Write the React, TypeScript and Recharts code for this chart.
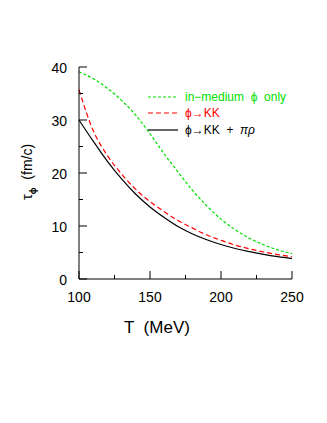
import React from "react";
import { LineChart, Line, XAxis, YAxis, Customized } from "recharts";

const temps = [100, 110, 120, 130, 140, 150, 160, 170, 180, 190, 200, 210, 220, 230, 240, 250];
const inMediumOnly = [39.1, 37.8, 36.0, 33.7, 30.9, 27.4, 23.6, 20.1, 16.7, 13.8, 11.3, 9.3, 7.7, 6.45, 5.5, 4.8];
const phiKK = [35.7, 28.0, 23.3, 19.8, 16.9, 14.6, 12.7, 11.0, 9.6, 8.3, 7.3, 6.4, 5.7, 5.1, 4.6, 4.2];
const phiKKpiRho = [30, 26.0, 22.2, 18.9, 16.0, 13.6, 11.6, 9.85, 8.5, 7.4, 6.5, 5.75, 5.15, 4.65, 4.22, 3.85];
const xTicks = [100, 125, 150, 175, 200, 225, 250];
const yTicks = [0, 5, 10, 15, 20, 25, 30, 35, 40];

const data = temps.map((t, i) => ({ t, g: inMediumOnly[i], r: phiKK[i], k: phiKKpiRho[i] }));

const FONT = "'Liberation Sans', Arial, sans-serif";
const PRE: React.CSSProperties = { whiteSpace: "pre" };

const BottomTick = (props: any) => {
  const { x, y, payload } = props;
  const major = payload.value % 50 === 0;
  return (
    <g>
      <line x1={x} x2={x} y1={y} y2={y - (major ? 8 : 4)} stroke="#000" strokeWidth={1} />
      {major && (
        <text x={x} y={y + 23} textAnchor="middle" fontSize={14} fontFamily={FONT} fill="#000">
          {payload.value}
        </text>
      )}
    </g>
  );
};
const TopTick = (props: any) => {
  const { x, y, payload } = props;
  const major = payload.value % 50 === 0;
  return <line x1={x} x2={x} y1={y} y2={y + (major ? 8 : 4)} stroke="#000" strokeWidth={1} />;
};
const LeftTick = (props: any) => {
  const { x, y, payload } = props;
  const major = payload.value % 10 === 0;
  return (
    <g>
      <line x1={x} x2={x + (major ? 8 : 4)} y1={y} y2={y} stroke="#000" strokeWidth={1} />
      {major && (
        <text x={x - 12} y={y + 6} textAnchor="end" fontSize={14} fontFamily={FONT} fill="#000">
          {payload.value}
        </text>
      )}
    </g>
  );
};
const RightTick = (props: any) => {
  const { x, y, payload } = props;
  const major = payload.value % 10 === 0;
  return <line x1={x} x2={x - (major ? 8 : 4)} y1={y} y2={y} stroke="#000" strokeWidth={1} />;
};

const Overlay = () => (
  <g fontFamily={FONT}>
    <text transform="translate(32,172) rotate(-90)" textAnchor="middle" fontSize={14} fill="#000" xmlSpace="preserve" style={PRE}>
      <tspan fontSize={15}>τ</tspan>
      <tspan fontSize={9} dy={4} fontWeight="bold">ϕ</tspan>
      <tspan dy={-4}>{"  (fm/c)"}</tspan>
    </text>
    <text x={157} y={333} textAnchor="middle" fontSize={17} fill="#000" xmlSpace="preserve" style={PRE}>{"T  (MeV)"}</text>
    <line x1={148} x2={178} y1={97} y2={97} stroke="#00e000" strokeWidth={1.2} strokeDasharray="3 2" />
    <text x={185} y={101} fontSize={12} fill="#00e000" xmlSpace="preserve" style={PRE}>{"in−medium  ϕ  only"}</text>
    <line x1={148} x2={178} y1={113} y2={113} stroke="#ff0000" strokeWidth={1.2} strokeDasharray="5 3" />
    <text x={185} y={117} fontSize={12} fill="#ff0000" xmlSpace="preserve" style={PRE}>{"ϕ→KK"}</text>
    <line x1={148} x2={178} y1={130} y2={130} stroke="#000" strokeWidth={1.2} />
    <text x={185} y={134} fontSize={12} fill="#000" xmlSpace="preserve" style={PRE}>
      {"ϕ→KK  +  "}<tspan fontStyle="italic">πρ</tspan>
    </text>
  </g>
);

export default function App() {
  return (
    <div style={{ position: "absolute", left: 0, top: 0, width: 327, height: 423, background: "#fff" }}>
      <LineChart width={327} height={423} data={data} margin={{ top: 67, right: 35, bottom: 84, left: 0 }}>
        <XAxis
          xAxisId="b"
          dataKey="t"
          type="number"
          domain={[100, 250]}
          ticks={xTicks}
          tick={<BottomTick />}
          tickSize={0}
          tickMargin={0}
          tickLine={false}
          height={60}
          stroke="#000"
          interval={0}
        />
        <XAxis
          xAxisId="t"
          dataKey="t"
          type="number"
          orientation="top"
          domain={[100, 250]}
          ticks={xTicks}
          tick={<TopTick />}
          tickSize={0}
          tickMargin={0}
          tickLine={false}
          height={0}
          stroke="#000"
          interval={0}
        />
        <YAxis
          yAxisId="l"
          type="number"
          domain={[0, 40]}
          ticks={yTicks}
          tick={<LeftTick />}
          tickSize={0}
          tickMargin={0}
          tickLine={false}
          width={79}
          stroke="#000"
          interval={0}
        />
        <YAxis
          yAxisId="r"
          orientation="right"
          type="number"
          domain={[0, 40]}
          ticks={yTicks}
          tick={<RightTick />}
          tickSize={0}
          tickMargin={0}
          tickLine={false}
          width={0}
          stroke="#000"
          interval={0}
        />
        <Line xAxisId="b" yAxisId="l" type="monotone" dataKey="g" stroke="#00e000" strokeWidth={1.2} strokeDasharray="3 2" dot={false} isAnimationActive={false} />
        <Line xAxisId="b" yAxisId="l" type="monotone" dataKey="r" stroke="#ff0000" strokeWidth={1.2} strokeDasharray="5 3" dot={false} isAnimationActive={false} />
        <Line xAxisId="b" yAxisId="l" type="monotone" dataKey="k" stroke="#000" strokeWidth={1.2} dot={false} isAnimationActive={false} />
        <Customized component={Overlay} />
      </LineChart>
    </div>
  );
}
